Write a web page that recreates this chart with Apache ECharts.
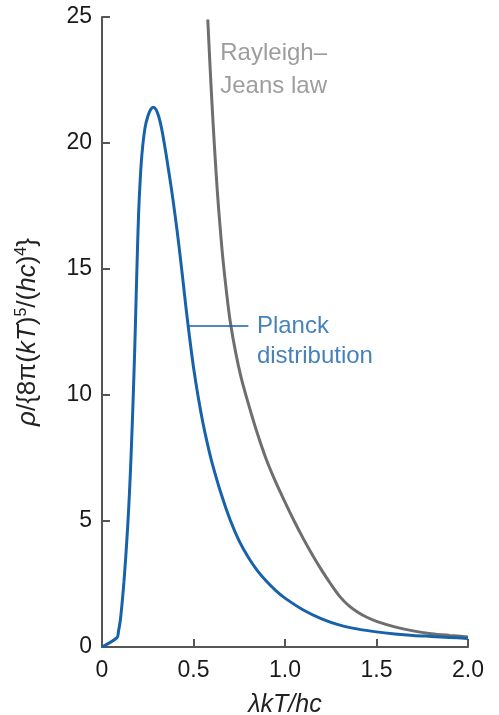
<!DOCTYPE html>
<html>
<head>
<meta charset="utf-8">
<script src="https://cdn.jsdelivr.net/npm/echarts@6/dist/echarts.min.js"></script>
<style>
html,body{margin:0;padding:0;background:#fff;}
#chart{width:499px;height:715px;}
</style>
</head>
<body>
<div id="chart"></div>
<script>
// === 數據 ===
const planckX=[0,0.082,0.09,0.10,0.11,0.12,0.13,0.14,0.15,0.16,0.17,0.18,0.19,0.20,0.21,0.22,0.235,0.25,0.265,0.28,
  0.295,0.31,0.325,0.34,0.36,0.38,0.40,0.42,0.44,0.46,0.48,0.50,0.525,0.55,0.575,0.60,0.65,0.70,0.75,0.80,0.85,0.90,0.95,1.0,1.1,1.2,1.3,1.4,1.5,1.6,1.7,1.8,1.9,2.0];
const planckY=[0,0.37,0.62,1.05,1.75,2.6,3.6,4.75,6.1,7.8,9.8,12.1,14.8,17.2,18.7,19.7,20.6,21.05,21.32,21.42,
  21.33,21.05,20.6,20.0,19.1,18.15,17.1,15.95,14.7,13.4,12.2,11.1,9.95,8.95,8.1,7.35,6.1,5.05,4.2,3.55,3.02,2.6,2.24,1.94,1.47,1.12,0.87,0.71,0.6,0.52,0.46,0.42,0.38,0.34];
const rjX=[0.578,0.59,0.60,0.615,0.63,0.645,0.66,0.68,0.70,0.73,0.76,0.80,0.85,0.90,0.95,1.0,1.05,1.1,1.15,1.2,1.25,1.3,1.35,1.4,1.45,1.5,1.6,1.7,1.8,1.9,2.0];
const rjY=[24.9,23.1,21.7,19.8,18.1,16.7,15.45,14.1,12.95,11.7,10.7,9.65,8.45,7.4,6.53,5.75,5.0,4.3,3.65,3.05,2.5,2.0,1.63,1.37,1.17,1.02,0.8,0.64,0.53,0.46,0.40];
const leaderX=[0.471,0.8],leaderY=[12.74,12.74];
const xTicks=[0,0.5,1.0,1.5,2.0];
const yTicks=[0,5,10,15,20,25];

// === 顏色 ===
const BLUE='#1762aa',GRAY='#6e6e6e',LABEL_GRAY='#858585',AXIS='#555';
const FONT='"Liberation Sans", Arial, sans-serif';

function pairs(xs,ys){return xs.map((x,i)=>[x,ys[i]]);}

const chart=echarts.init(document.getElementById('chart'),null,{renderer:'canvas'});
chart.setOption({
  animation:false,
  backgroundColor:'#fff',
  grid:{left:102,right:31,top:17,bottom:68,outerBoundsMode:'none',containLabel:false},
  xAxis:{
    type:'value',min:xTicks[0],max:xTicks[xTicks.length-1],interval:0.5,
    name:'{i|λkT/hc}',nameLocation:'middle',nameGap:46,
    nameTextStyle:{rich:{i:{fontFamily:FONT,fontSize:25,fontStyle:'italic',color:'#222'}}},
    axisLine:{lineStyle:{color:AXIS,width:2}},
    axisTick:{inside:true,length:8,lineStyle:{color:AXIS,width:2}},
    axisLabel:{margin:12,fontFamily:FONT,fontSize:23,color:'#1a1a1a',
      formatter:v=>v===0?'0':v.toFixed(1)},
    splitLine:{show:false}
  },
  yAxis:{
    type:'value',min:yTicks[0],max:yTicks[yTicks.length-1],interval:5,
    name:'{i|ρ}/{8π({i|kT}){s|5}/({i|hc}){s|4}}',nameLocation:'middle',nameGap:60,
    nameTextStyle:{fontFamily:FONT,fontSize:26,color:'#222',
      rich:{i:{fontFamily:FONT,fontSize:26,fontStyle:'italic',color:'#222'},
            s:{fontFamily:FONT,fontSize:16,color:'#222',verticalAlign:'bottom',padding:[0,0,12,0]}}},
    axisLine:{show:true,lineStyle:{color:AXIS,width:2}},
    axisTick:{show:true,inside:true,length:8,lineStyle:{color:AXIS,width:2}},
    axisLabel:{margin:10,fontFamily:FONT,fontSize:23,color:'#1a1a1a'},
    splitLine:{show:false}
  },
  series:[
    {type:'line',data:pairs(rjX,rjY),showSymbol:false,smooth:0.3,
      lineStyle:{color:GRAY,width:3},z:2},
    {type:'line',data:pairs(planckX,planckY),showSymbol:false,smooth:0.3,
      lineStyle:{color:BLUE,width:3},z:3},
    {type:'line',data:pairs(leaderX,leaderY),showSymbol:false,
      lineStyle:{color:BLUE,width:1.5},z:3},
    {type:'scatter',symbolSize:1,itemStyle:{color:'transparent'},silent:true,
      data:[
        {value:[rjX[0],rjY[0]],label:{show:true,formatter:'Rayleigh–\nJeans law',position:'right',
          distance:12,offset:[0,50],align:'left',fontFamily:FONT,fontSize:24,lineHeight:33,color:LABEL_GRAY}},
        {value:[leaderX[1],leaderY[1]],label:{show:true,formatter:'Planck\ndistribution',position:'right',
          distance:8,offset:[0,15],align:'left',fontFamily:FONT,fontSize:24,lineHeight:30,color:BLUE}}
      ]}
  ]
});
</script>
</body>
</html>
